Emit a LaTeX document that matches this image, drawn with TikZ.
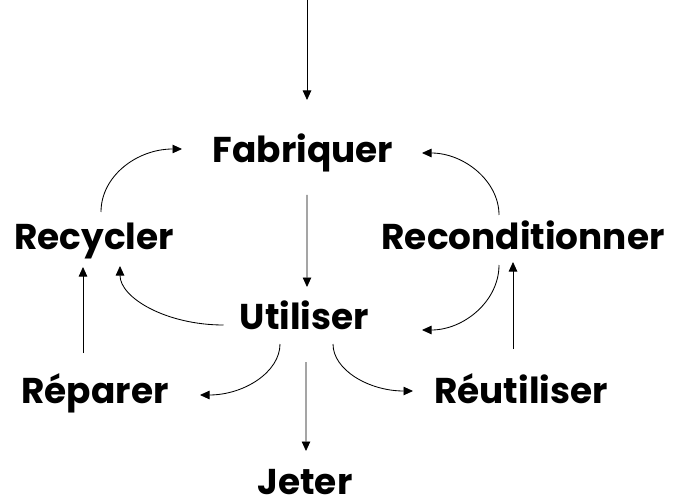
\documentclass[tikz,border=0pt]{standalone}
\usepackage{fontspec}
\setmainfont{Poppins}
\usetikzlibrary{arrows.meta,calc}
\begin{document}
\begin{tikzpicture}[x=1bp,y=-1bp,
  lbl/.style={anchor=base,inner sep=0pt,font=\fontsize{36}{40}\selectfont\bfseries},
  arr/.style={-{Triangle[length=9.5bp,width=8.5bp]},line width=0.85bp,black}]
\useasboundingbox (0,0) rectangle (680,501);
\node[lbl] (fab) at (303,163) {Fabriquer};
\node[lbl] (rec) at (94,250) {Recycler};
\node[lbl] (con) at (523,250) {Reconditionner};
\node[lbl] (uti) at (304.5,329) {Utiliser};
\node[lbl] (rep) at (95,403) {Réparer};
\node[lbl] (reu) at (521,403) {Réutiliser};
\node[lbl,text depth=0pt] (jet) at (305,494) {Jeter};
\coordinate (top) at (307,0);
\draw[arr] (top) -- ($(fab.base)+(4,-63)$);
\draw[arr] ($(fab.base)+(4,32)$) -- ($(uti.base)+(2.5,-42)$);
\draw[arr] ($(uti.base)+(1.5,33)$) -- ($(jet.base)+(1,-43)$);
\draw[arr] ($(rep.base)+(-12,-50)$) -- ($(rec.base)+(-11,17)$);
\draw[arr] ($(reu.base)+(-8,-54)$) -- ($(con.base)+(-10,12)$);
\draw[arr] ($(rec.base)+(7,-38)$) .. controls +(0,-36) and +(-45,0) .. ($(fab.base)+(-121,-14)$);
\draw[arr] ($(uti.base)+(-81,-4)$) .. controls +(-57,0) and +(0,32) .. ($(rec.base)+(26,16)$);
\draw[arr] ($(con.base)+(-24,-35)$) .. controls +(0,-34) and +(42,0) .. ($(fab.base)+(119,-10)$);
\draw[arr] ($(con.base)+(-24,15)$) .. controls +(0,36) and +(42,0) .. ($(uti.base)+(117.5,1)$);
\draw[arr] ($(uti.base)+(-24.5,15)$) .. controls +(0,28) and +(44,0) .. ($(rep.base)+(105,-8)$);
\draw[arr] ($(uti.base)+(28.5,15)$) .. controls +(0,26) and +(-44,0) .. ($(reu.base)+(-108,-12)$);
\end{tikzpicture}
\end{document}
